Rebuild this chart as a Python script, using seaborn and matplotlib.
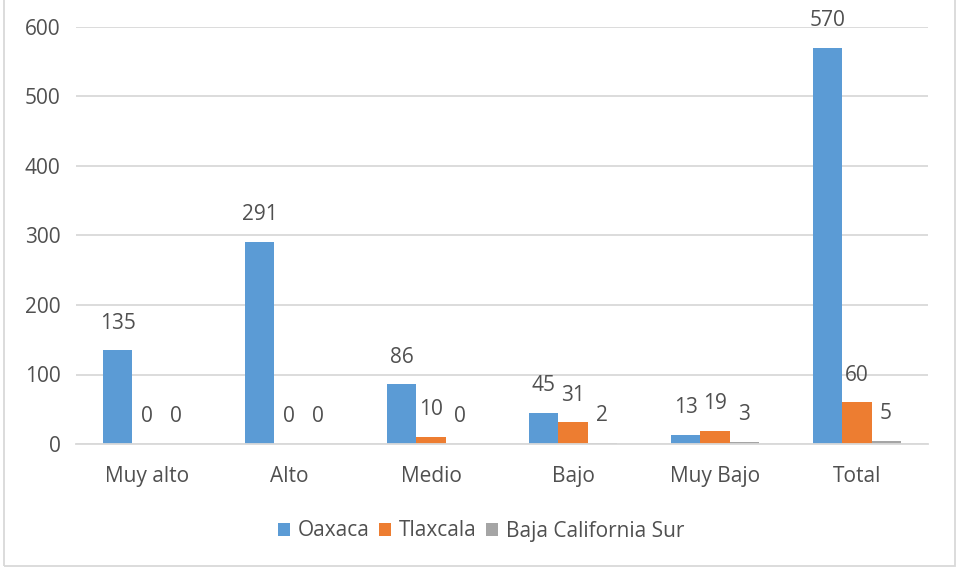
import matplotlib
matplotlib.use("Agg")
import matplotlib.pyplot as plt
import seaborn as sns
import pandas as pd
from matplotlib.patches import Rectangle

categories = ["Muy alto", "Alto", "Medio", "Bajo", "Muy Bajo", "Total"]
oaxaca = [135, 291, 86, 45, 13, 570]
tlaxcala = [0, 0, 10, 31, 19, 60]
baja_cs = [0, 0, 0, 2, 3, 5]
series_names = ["Oaxaca", "Tlaxcala", "Baja California Sur"]
yticks = [0, 100, 200, 300, 400, 500, 600]

colors = ["#5B9BD5", "#ED7D31", "#A5A5A5"]
text_color = "#505050"
grid_color = "#D9D9D9"

sns.set_theme(style="white")
plt.rcParams["font.family"] = ["Open Sans", "DejaVu Sans"]

df = pd.DataFrame({
    "categoria": categories * 3,
    "serie": [series_names[0]] * 6 + [series_names[1]] * 6 + [series_names[2]] * 6,
    "valor": oaxaca + tlaxcala + baja_cs,
})

fig = plt.figure(figsize=(9.58, 5.70), dpi=100)
ax = fig.add_axes([76 / 958, 1 - 444 / 570, 852 / 958, (444 - 27) / 570])

sns.barplot(data=df, x="categoria", y="valor", hue="serie", palette=colors,
            width=0.615, saturation=1, linewidth=0, ax=ax, legend=True)

ax.set_ylim(0, 600)
ax.set_xlim(-0.5, 5.5)
ax.set_yticks(yticks)
ax.set_xlabel("")
ax.set_ylabel("")
ax.yaxis.grid(True, color=grid_color, linewidth=1.3)
ax.set_axisbelow(True)
for side in ["left", "right", "top"]:
    ax.spines[side].set_visible(False)
ax.spines["bottom"].set_color(grid_color)
ax.spines["bottom"].set_linewidth(1.3)
ax.tick_params(axis="both", length=0, labelsize=15, colors=text_color)
ax.tick_params(axis="x", pad=16)
ax.tick_params(axis="y", pad=11)

for container in ax.containers:
    ax.bar_label(container, fmt="%d", padding=12, fontsize=15, color=text_color)

handles, labels = ax.get_legend_handles_labels()
ax.legend_.remove()
fig.legend(handles, labels, loc="center", bbox_to_anchor=(481 / 958, 1 - 531 / 570),
           ncol=3, frameon=False, fontsize=15, labelcolor=text_color,
           handlelength=0.6, handleheight=0.6, handletextpad=0.35, columnspacing=0.45)

fig.patches.append(Rectangle((4 / 958, 4 / 570), 951 / 958, 570 / 570,
                             transform=fig.transFigure, fill=False,
                             edgecolor=grid_color, linewidth=1.3))

fig.savefig("out.png", dpi=100)
